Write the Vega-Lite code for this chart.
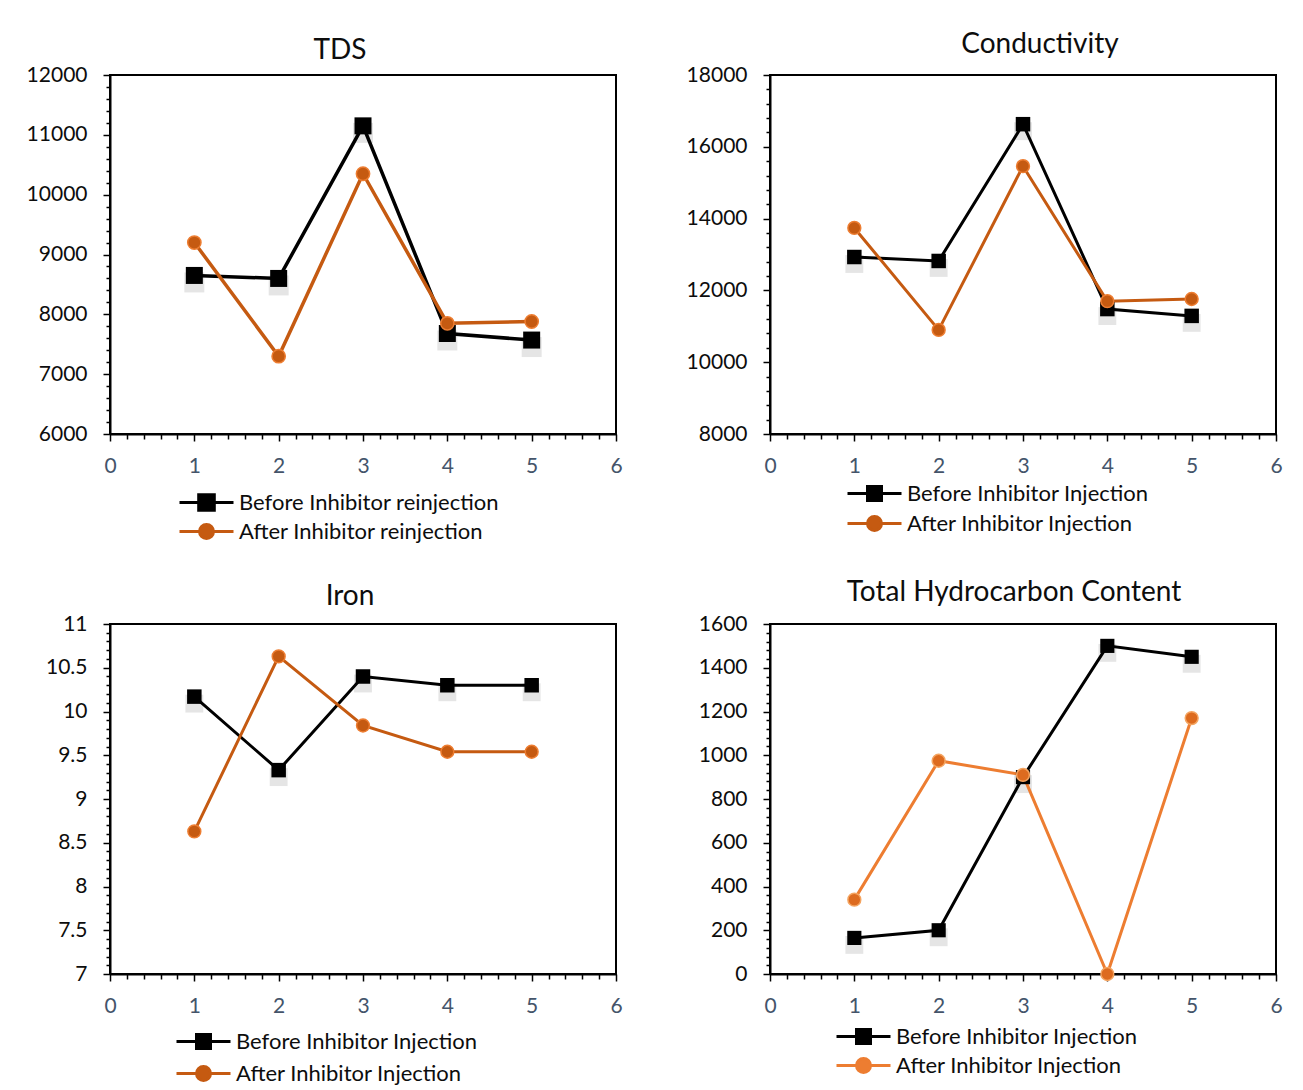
{
"$schema": "https://vega.github.io/schema/vega-lite/v6.json",
"background": "white",
"padding": {"left": 25, "top": 30, "right": 5, "bottom": 5},
"datasets": {"d": [
{"chart":"TDS","series":"Before Inhibitor reinjection","x":1,"value":8650},
{"chart":"TDS","series":"Before Inhibitor reinjection","x":2,"value":8600},
{"chart":"TDS","series":"Before Inhibitor reinjection","x":3,"value":11150},
{"chart":"TDS","series":"Before Inhibitor reinjection","x":4,"value":7680},
{"chart":"TDS","series":"Before Inhibitor reinjection","x":5,"value":7570},
{"chart":"TDS","series":"After Inhibitor reinjection","x":1,"value":9200},
{"chart":"TDS","series":"After Inhibitor reinjection","x":2,"value":7300},
{"chart":"TDS","series":"After Inhibitor reinjection","x":3,"value":10350},
{"chart":"TDS","series":"After Inhibitor reinjection","x":4,"value":7850},
{"chart":"TDS","series":"After Inhibitor reinjection","x":5,"value":7880},
{"chart":"Conductivity","series":"Before Inhibitor Injection","x":1,"value":12930},
{"chart":"Conductivity","series":"Before Inhibitor Injection","x":2,"value":12820},
{"chart":"Conductivity","series":"Before Inhibitor Injection","x":3,"value":16630},
{"chart":"Conductivity","series":"Before Inhibitor Injection","x":4,"value":11480},
{"chart":"Conductivity","series":"Before Inhibitor Injection","x":5,"value":11290},
{"chart":"Conductivity","series":"After Inhibitor Injection","x":1,"value":13740},
{"chart":"Conductivity","series":"After Inhibitor Injection","x":2,"value":10900},
{"chart":"Conductivity","series":"After Inhibitor Injection","x":3,"value":15460},
{"chart":"Conductivity","series":"After Inhibitor Injection","x":4,"value":11700},
{"chart":"Conductivity","series":"After Inhibitor Injection","x":5,"value":11760},
{"chart":"Iron","series":"Before Inhibitor Injection","x":1,"value":10.17},
{"chart":"Iron","series":"Before Inhibitor Injection","x":2,"value":9.33},
{"chart":"Iron","series":"Before Inhibitor Injection","x":3,"value":10.4},
{"chart":"Iron","series":"Before Inhibitor Injection","x":4,"value":10.3},
{"chart":"Iron","series":"Before Inhibitor Injection","x":5,"value":10.3},
{"chart":"Iron","series":"After Inhibitor Injection","x":1,"value":8.63},
{"chart":"Iron","series":"After Inhibitor Injection","x":2,"value":10.63},
{"chart":"Iron","series":"After Inhibitor Injection","x":3,"value":9.84},
{"chart":"Iron","series":"After Inhibitor Injection","x":4,"value":9.54},
{"chart":"Iron","series":"After Inhibitor Injection","x":5,"value":9.54},
{"chart":"THC","series":"Before Inhibitor Injection","x":1,"value":165},
{"chart":"THC","series":"Before Inhibitor Injection","x":2,"value":200},
{"chart":"THC","series":"Before Inhibitor Injection","x":3,"value":900},
{"chart":"THC","series":"Before Inhibitor Injection","x":4,"value":1500},
{"chart":"THC","series":"Before Inhibitor Injection","x":5,"value":1450},
{"chart":"THC","series":"After Inhibitor Injection","x":1,"value":340},
{"chart":"THC","series":"After Inhibitor Injection","x":2,"value":975},
{"chart":"THC","series":"After Inhibitor Injection","x":3,"value":910},
{"chart":"THC","series":"After Inhibitor Injection","x":4,"value":0},
{"chart":"THC","series":"After Inhibitor Injection","x":5,"value":1170}
]},
"columns": 2,
"spacing": {"row": 190, "column": 154},
"bounds": "flush",
"resolve": {"scale": {"color": "independent"}, "legend": {"color": "independent"}},
"concat": [
{
 "width": 506, "height": 359,
 "title": {"text": "TDS", "offset": -1, "dx": -23},
 "data": {"name": "d"},
 "transform": [{"filter": "datum.chart == 'TDS'"}],
 "encoding": {
  "x": {"field": "x", "type": "quantitative", "scale": {"domain": [0, 6], "nice": false},
   "axis": {"values": [0,0.2,0.4,0.6,0.8,1,1.2,1.4,1.6,1.8,2,2.2,2.4,2.6,2.8,3,3.2,3.4,3.6,3.8,4,4.2,4.4,4.6,4.8,5,5.2,5.4,5.6,5.8,6],
    "labelExpr": "abs(datum.value - round(datum.value)) < 0.001 ? format(datum.value, 'd') : ''",
    "tickSize": {"condition": {"test": "abs(datum.value - round(datum.value)) < 0.001", "value": 7}, "value": 5}}},
  "y": {"field": "value", "type": "quantitative", "scale": {"domain": [6000, 12000], "nice": false, "zero": false},
   "axis": {"values": [6000,6200,6400,6600,6800,7000,7200,7400,7600,7800,8000,8200,8400,8600,8800,9000,9200,9400,9600,9800,10000,10200,10400,10600,10800,11000,11200,11400,11600,11800,12000],
    "labelExpr": "datum.value % 1000 == 0 ? format(datum.value, 'd') : ''",
    "tickSize": {"condition": {"test": "datum.value % 1000 == 0", "value": 7}, "value": 4}}},
  "color": {"field": "series", "type": "nominal",
   "scale": {"domain": ["Before Inhibitor reinjection", "After Inhibitor reinjection"], "range": ["#000000", "#C55A11"]},
   "legend": {"title": null, "legendX": 85, "legendY": 416, "rowPadding": 1,
    "encode": {"symbols": {"update": {
     "shape": {"signal": "indexof(datum.value,'Before')==0 ? 'M-2.7,0H2.7M-0.78,-0.78H0.78V0.78H-0.78Z' : 'M-2.7,0H2.7M-0.7,0A0.7,0.7 0 1 1 0.7,0A0.7,0.7 0 1 1 -0.7,0Z'"},
     "fill": {"signal": "indexof(datum.value,'Before')==0 ? '#000000' : '#C55A11'"},
     "stroke": {"signal": "indexof(datum.value,'Before')==0 ? '#000000' : '#C55A11'"},
     "strokeWidth": {"value": 3}, "opacity": {"value": 1}}}}}}
 },
 "layer": [
  {"transform": [{"filter": "indexof(datum.series,'Before')==0"}], "mark": {"type": "point", "filled": true, "shape": "square", "size": 400, "opacity": 0.1, "yOffset": 7}, "encoding": {"color": {"value": "#000000"}}},
  {"mark": {"type": "line", "strokeWidth": 3.5}},
  {"transform": [{"filter": "indexof(datum.series,'Before')==0"}], "mark": {"type": "point", "filled": true, "shape": "square", "size": 289, "opacity": 1}},
  {"transform": [{"filter": "indexof(datum.series,'After')==0"}], "mark": {"type": "point", "filled": true, "shape": "circle", "size": 177, "opacity": 1, "stroke": "#ED7D31", "strokeWidth": 1.5}, "encoding": {"color": {"value": "#C55A11"}}}
 ]
},
{
 "width": 506, "height": 359,
 "title": {"text": "Conductivity", "offset": 5, "dx": 17},
 "data": {"name": "d"},
 "transform": [{"filter": "datum.chart == 'Conductivity'"}],
 "encoding": {
  "x": {"field": "x", "type": "quantitative", "scale": {"domain": [0, 6], "nice": false},
   "axis": {"values": [0,0.2,0.4,0.6,0.8,1,1.2,1.4,1.6,1.8,2,2.2,2.4,2.6,2.8,3,3.2,3.4,3.6,3.8,4,4.2,4.4,4.6,4.8,5,5.2,5.4,5.6,5.8,6],
    "labelExpr": "abs(datum.value - round(datum.value)) < 0.001 ? format(datum.value, 'd') : ''",
    "tickSize": {"condition": {"test": "abs(datum.value - round(datum.value)) < 0.001", "value": 7}, "value": 5}}},
  "y": {"field": "value", "type": "quantitative", "scale": {"domain": [8000, 18000], "nice": false, "zero": false},
   "axis": {"values": [8000,8400,8800,9200,9600,10000,10400,10800,11200,11600,12000,12400,12800,13200,13600,14000,14400,14800,15200,15600,16000,16400,16800,17200,17600,18000],
    "labelExpr": "datum.value % 2000 == 0 ? format(datum.value, 'd') : ''",
    "tickSize": {"condition": {"test": "datum.value % 2000 == 0", "value": 7}, "value": 4}}},
  "color": {"field": "series", "type": "nominal",
   "scale": {"domain": ["Before Inhibitor Injection", "After Inhibitor Injection"], "range": ["#000000", "#C55A11"]},
   "legend": {"title": null, "legendX": 93, "legendY": 407, "rowPadding": 3,
    "encode": {"symbols": {"update": {
     "shape": {"signal": "indexof(datum.value,'Before')==0 ? 'M-2.7,0H2.7M-0.7,-0.7H0.7V0.7H-0.7Z' : 'M-2.7,0H2.7M-0.7,0A0.7,0.7 0 1 1 0.7,0A0.7,0.7 0 1 1 -0.7,0Z'"},
     "fill": {"signal": "indexof(datum.value,'Before')==0 ? '#000000' : '#C55A11'"},
     "stroke": {"signal": "indexof(datum.value,'Before')==0 ? '#000000' : '#C55A11'"},
     "strokeWidth": {"value": 3}, "opacity": {"value": 1}}}}}}
 },
 "layer": [
  {"transform": [{"filter": "indexof(datum.series,'Before')==0"}], "mark": {"type": "point", "filled": true, "shape": "square", "size": 320, "opacity": 0.1, "yOffset": 7}, "encoding": {"color": {"value": "#000000"}}},
  {"mark": {"type": "line", "strokeWidth": 3}},
  {"transform": [{"filter": "indexof(datum.series,'Before')==0"}], "mark": {"type": "point", "filled": true, "shape": "square", "size": 210, "opacity": 1}},
  {"transform": [{"filter": "indexof(datum.series,'After')==0"}], "mark": {"type": "point", "filled": true, "shape": "circle", "size": 165, "opacity": 1, "stroke": "#ED7D31", "strokeWidth": 1.5}, "encoding": {"color": {"value": "#C55A11"}}}
 ]
},
{
 "width": 506, "height": 350,
 "title": {"text": "Iron", "offset": 2, "dx": -13},
 "data": {"name": "d"},
 "transform": [{"filter": "datum.chart == 'Iron'"}],
 "encoding": {
  "x": {"field": "x", "type": "quantitative", "scale": {"domain": [0, 6], "nice": false},
   "axis": {"values": [0,0.2,0.4,0.6,0.8,1,1.2,1.4,1.6,1.8,2,2.2,2.4,2.6,2.8,3,3.2,3.4,3.6,3.8,4,4.2,4.4,4.6,4.8,5,5.2,5.4,5.6,5.8,6],
    "labelExpr": "abs(datum.value - round(datum.value)) < 0.001 ? format(datum.value, 'd') : ''",
    "tickSize": {"condition": {"test": "abs(datum.value - round(datum.value)) < 0.001", "value": 7}, "value": 5}}},
  "y": {"field": "value", "type": "quantitative", "scale": {"domain": [7, 11], "nice": false, "zero": false},
   "axis": {"values": [7,7.1,7.2,7.3,7.4,7.5,7.6,7.7,7.8,7.9,8,8.1,8.2,8.3,8.4,8.5,8.6,8.7,8.8,8.9,9,9.1,9.2,9.3,9.4,9.5,9.6,9.7,9.8,9.9,10,10.1,10.2,10.3,10.4,10.5,10.6,10.7,10.8,10.9,11],
    "labelExpr": "abs(datum.value*2 - round(datum.value*2)) < 0.001 ? format(datum.value, '.1~f') : ''",
    "tickSize": {"condition": {"test": "abs(datum.value*2 - round(datum.value*2)) < 0.001", "value": 7}, "value": 4}}},
  "color": {"field": "series", "type": "nominal",
   "scale": {"domain": ["Before Inhibitor Injection", "After Inhibitor Injection"], "range": ["#000000", "#C55A11"]},
   "legend": {"title": null, "legendX": 82, "legendY": 406, "rowPadding": 5,
    "encode": {"symbols": {"update": {
     "shape": {"signal": "indexof(datum.value,'Before')==0 ? 'M-2.7,0H2.7M-0.7,-0.7H0.7V0.7H-0.7Z' : 'M-2.7,0H2.7M-0.7,0A0.7,0.7 0 1 1 0.7,0A0.7,0.7 0 1 1 -0.7,0Z'"},
     "fill": {"signal": "indexof(datum.value,'Before')==0 ? '#000000' : '#C55A11'"},
     "stroke": {"signal": "indexof(datum.value,'Before')==0 ? '#000000' : '#C55A11'"},
     "strokeWidth": {"value": 3}, "opacity": {"value": 1}}}}}}
 },
 "layer": [
  {"transform": [{"filter": "indexof(datum.series,'Before')==0"}], "mark": {"type": "point", "filled": true, "shape": "square", "size": 320, "opacity": 0.1, "yOffset": 7}, "encoding": {"color": {"value": "#000000"}}},
  {"mark": {"type": "line", "strokeWidth": 3}},
  {"transform": [{"filter": "indexof(datum.series,'Before')==0"}], "mark": {"type": "point", "filled": true, "shape": "square", "size": 210, "opacity": 1}},
  {"transform": [{"filter": "indexof(datum.series,'After')==0"}], "mark": {"type": "point", "filled": true, "shape": "circle", "size": 165, "opacity": 1, "stroke": "#ED7D31", "strokeWidth": 1.5}, "encoding": {"color": {"value": "#C55A11"}}}
 ]
},
{
 "width": 506, "height": 350,
 "title": {"text": "Total Hydrocarbon Content", "offset": 6, "dx": -9},
 "data": {"name": "d"},
 "transform": [{"filter": "datum.chart == 'THC'"}],
 "encoding": {
  "x": {"field": "x", "type": "quantitative", "scale": {"domain": [0, 6], "nice": false},
   "axis": {"values": [0,0.2,0.4,0.6,0.8,1,1.2,1.4,1.6,1.8,2,2.2,2.4,2.6,2.8,3,3.2,3.4,3.6,3.8,4,4.2,4.4,4.6,4.8,5,5.2,5.4,5.6,5.8,6],
    "labelExpr": "abs(datum.value - round(datum.value)) < 0.001 ? format(datum.value, 'd') : ''",
    "tickSize": {"condition": {"test": "abs(datum.value - round(datum.value)) < 0.001", "value": 7}, "value": 5}}},
  "y": {"field": "value", "type": "quantitative", "scale": {"domain": [0, 1600], "nice": false},
   "axis": {"values": [0,40,80,120,160,200,240,280,320,360,400,440,480,520,560,600,640,680,720,760,800,840,880,920,960,1000,1040,1080,1120,1160,1200,1240,1280,1320,1360,1400,1440,1480,1520,1560,1600],
    "labelExpr": "datum.value % 200 == 0 ? format(datum.value, 'd') : ''",
    "tickSize": {"condition": {"test": "datum.value % 200 == 0", "value": 7}, "value": 4}}},
  "color": {"field": "series", "type": "nominal",
   "scale": {"domain": ["Before Inhibitor Injection", "After Inhibitor Injection"], "range": ["#000000", "#ED7D31"]},
   "legend": {"title": null, "legendX": 82, "legendY": 401, "rowPadding": 2,
    "encode": {"symbols": {"update": {
     "shape": {"signal": "indexof(datum.value,'Before')==0 ? 'M-2.7,0H2.7M-0.7,-0.7H0.7V0.7H-0.7Z' : 'M-2.7,0H2.7M-0.7,0A0.7,0.7 0 1 1 0.7,0A0.7,0.7 0 1 1 -0.7,0Z'"},
     "fill": {"signal": "indexof(datum.value,'Before')==0 ? '#000000' : '#ED7D31'"},
     "stroke": {"signal": "indexof(datum.value,'Before')==0 ? '#000000' : '#ED7D31'"},
     "strokeWidth": {"value": 3}, "opacity": {"value": 1}}}}}}
 },
 "layer": [
  {"transform": [{"filter": "indexof(datum.series,'Before')==0"}], "mark": {"type": "point", "filled": true, "shape": "square", "size": 320, "opacity": 0.1, "yOffset": 7}, "encoding": {"color": {"value": "#000000"}}},
  {"mark": {"type": "line", "strokeWidth": 3}},
  {"transform": [{"filter": "indexof(datum.series,'Before')==0"}], "mark": {"type": "point", "filled": true, "shape": "square", "size": 200, "opacity": 1}},
  {"transform": [{"filter": "indexof(datum.series,'After')==0"}], "mark": {"type": "point", "filled": true, "shape": "circle", "size": 165, "opacity": 1, "stroke": "#F4A460", "strokeWidth": 1.5}, "encoding": {"color": {"value": "#DD6B1F"}}}
 ]
}
],
"config": {
 "font": "Lato",
 "view": {"stroke": "#000000", "strokeWidth": 2},
 "axis": {"grid": false, "title": null, "domainColor": "#000000", "domainWidth": 2, "tickColor": "#000000", "tickWidth": 1.5,
  "labelFont": "Lato", "labelFontSize": 21, "labelPadding": 16, "labelOverlap": false, "labelFlush": false, "labelBound": false},
 "axisX": {"labelColor": "#44546A", "labelPadding": 14},
 "axisY": {"labelColor": "#0d0d0d"},
 "title": {"font": "Lato", "fontSize": 28, "fontWeight": "normal", "color": "#0d0d0d", "anchor": "middle", "frame": "group"},
 "legend": {"orient": "none", "direction": "vertical", "labelFont": "Lato", "labelFontSize": 22, "labelColor": "#0d0d0d", "labelLimit": 500,
  "symbolSize": 400, "symbolStrokeWidth": 3, "labelOffset": 21, "padding": 0, "rowPadding": 8}
}
}
